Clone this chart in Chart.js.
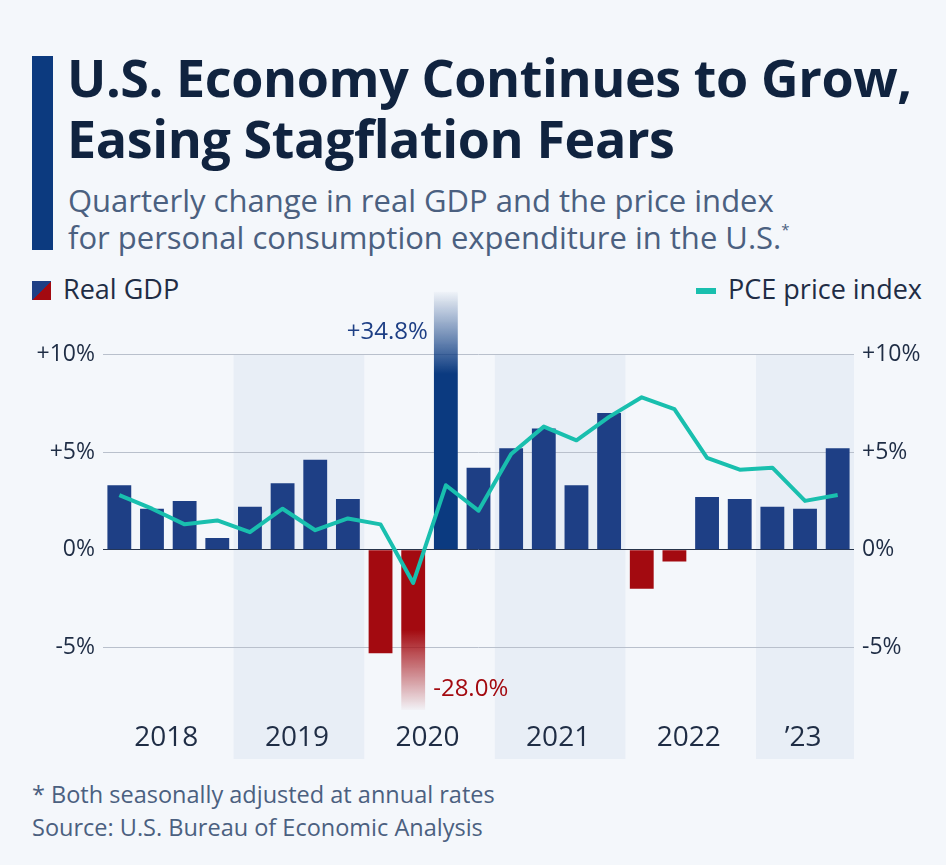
<!DOCTYPE html>
<html>
<head>
<meta charset="utf-8">
<script src="https://cdn.jsdelivr.net/npm/chart.js@4/dist/chart.umd.min.js"></script>
<style>
  html, body { margin: 0; padding: 0; }
  body {
    width: 946px; height: 865px; position: relative; overflow: hidden;
    background: #f4f7fb; font-family: "Open Sans", sans-serif;
  }
  .accent { position: absolute; left: 32px; top: 56px; width: 21px; height: 194px; background: #0c3a7f; }
  .title {
    position: absolute; left: 67px; top: 46px; margin: 0; white-space: nowrap;
    font-size: 52px; line-height: 61px; font-weight: 700; color: #10233f; letter-spacing: -0.4px;
  }
  .subtitle {
    position: absolute; left: 68px; top: 182px; margin: 0; white-space: nowrap;
    font-size: 31px; line-height: 37px; font-weight: 400; color: #4b6080;
  }
  .subtitle sup { font-size: 15px; vertical-align: 14px; line-height: 0; }
  .legend { position: absolute; top: 275px; font-size: 27px; line-height: 27px; color: #1f2d45; white-space: nowrap; }
  .legend.gdp { left: 32px; }
  .legend.pce { right: 24px; }
  .swatch { display: inline-block; vertical-align: top; }
  .swatch.gdp { width: 19px; height: 19px; margin: 6px 12px 0 0; background: linear-gradient(135deg, #1e3f85 50%, #a30a10 50%); }
  .swatch.pce { width: 20px; height: 6px; margin: 13px 12px 0 0; background: #19bfae; }
  #chartWrap { position: absolute; left: 0; top: 270px; width: 946px; height: 500px; }
  .footer {
    position: absolute; left: 32px; top: 778px; margin: 0; white-space: nowrap;
    font-size: 23.5px; line-height: 33px; color: #4b6080;
  }
</style>
</head>
<body>
<div class="accent"></div>
<h1 class="title">U.S. Economy Continues to Grow,<br>Easing Stagflation Fears</h1>
<p class="subtitle">Quarterly change in real GDP and the price index<br>for personal consumption expenditure in the U.S.<sup>*</sup></p>
<div class="legend gdp"><span class="swatch gdp"></span>Real GDP</div>
<div class="legend pce"><span class="swatch pce"></span>PCE price index</div>
<div id="chartWrap"><canvas id="gdpChart" width="946" height="500"></canvas></div>
<p class="footer">* Both seasonally adjusted at annual rates<br>Source: U.S. Bureau of Economic Analysis</p>

<script>
// Data
const quarters = [
    '2018 Q1', '2018 Q2', '2018 Q3', '2018 Q4',
    '2019 Q1', '2019 Q2', '2019 Q3', '2019 Q4',
    '2020 Q1', '2020 Q2', '2020 Q3', '2020 Q4',
    '2021 Q1', '2021 Q2', '2021 Q3', '2021 Q4',
    '2022 Q1', '2022 Q2', '2022 Q3', '2022 Q4',
    '2023 Q1', '2023 Q2', '2023 Q3'
];
const gdpValues = [
    3.3, 2.1, 2.5, 0.6,
    2.2, 3.4, 4.6, 2.6,
    -5.3, -28.0, 34.8, 4.2,
    5.2, 6.2, 3.3, 7.0,
    -2.0, -0.6, 2.7, 2.6,
    2.2, 2.1, 5.2
];
const pceValues = [
    2.8, 2.1, 1.3, 1.5,
    0.9, 2.1, 1.0, 1.6,
    1.3, -1.7, 3.3, 2.0,
    4.9, 6.3, 5.6, 6.8,
    7.8, 7.2, 4.7, 4.1,
    4.2, 2.5, 2.8
];
const yearLabels = ['2018', '2019', '2020', '2021', '2022', '\u201923'];
const quartersPerYear = [4, 4, 4, 4, 4, 3];
const yTickValues = [-5, 0, 5, 10];

const BLUE = '#1e3f85';
const BLUE_DARK = '#0b3a80';
const RED = '#a30a10';
const TEAL = '#19bfae';
const TEXT = '#1f2d45';
const Y_MIN = -8.2;
const Y_MAX = 13.2;

function formatTick(v) {
    if (v > 0) return '+' + v + '%';
    return v + '%';
}

// bars that run past the axis fade out towards the edge
function barColor(ctx) {
    const v = ctx.raw;
    const chart = ctx.chart;
    const area = chart.chartArea;
    if (v > Y_MAX || v < Y_MIN) {
        if (!area) return v > 0 ? BLUE_DARK : RED;
        const y = chart.scales.y;
        const g = chart.ctx.createLinearGradient(0, area.top, 0, area.bottom);
        if (v > 0) {
            const solidAt = (y.getPixelForValue(9.0) - area.top) / (area.bottom - area.top);
            g.addColorStop(0, 'rgba(11,58,128,0.02)');
            g.addColorStop(solidAt, BLUE_DARK);
            g.addColorStop(1, BLUE_DARK);
        } else {
            const solidAt = (y.getPixelForValue(-4.1) - area.top) / (area.bottom - area.top);
            g.addColorStop(0, RED);
            g.addColorStop(solidAt, RED);
            g.addColorStop(1, 'rgba(163,10,16,0.02)');
        }
        return g;
    }
    return v < 0 ? RED : BLUE;
}

function yearRanges() {
    const ranges = [];
    let start = 0;
    quartersPerYear.forEach((n, i) => {
        ranges.push({ label: yearLabels[i], start: start, end: start + n - 1, shaded: i % 2 === 1 });
        start += n;
    });
    return ranges;
}

const yearBands = {
    id: 'yearBands',
    beforeDraw(chart) {
        const { ctx, scales: { x, y }, chartArea } = chart;
        const step = x.getPixelForValue(1) - x.getPixelForValue(0);
        const top = y.getPixelForValue(10);
        ctx.save();
        ctx.fillStyle = '#e8eef6';
        yearRanges().forEach(r => {
            if (!r.shaded) return;
            const left = x.getPixelForValue(r.start) - step / 2;
            const right = x.getPixelForValue(r.end) + step / 2;
            ctx.fillRect(left, top, right - left, chartArea.bottom + 49 - top);
        });
        ctx.restore();
    },
    afterDraw(chart) {
        const { ctx, scales: { x }, chartArea } = chart;
        ctx.save();
        ctx.font = '28px "Open Sans"';
        ctx.fillStyle = TEXT;
        ctx.textAlign = 'center';
        ctx.textBaseline = 'alphabetic';
        yearRanges().forEach(r => {
            const cx = (x.getPixelForValue(r.start) + x.getPixelForValue(r.end)) / 2;
            ctx.fillText(r.label, cx - 2, chartArea.bottom + 36);
        });
        ctx.restore();
    }
};

const outlierLabels = {
    id: 'outlierLabels',
    afterDatasetsDraw(chart) {
        const { ctx, scales: { x, y } } = chart;
        ctx.save();
        ctx.font = '24px "Open Sans"';
        ctx.textBaseline = 'middle';
        gdpValues.forEach((v, i) => {
            if (v > Y_MAX) {
                ctx.fillStyle = BLUE;
                ctx.textAlign = 'right';
                ctx.fillText('+' + v.toFixed(1) + '%', x.getPixelForValue(i) - 18, y.getPixelForValue(10) - 22);
            } else if (v < Y_MIN) {
                ctx.fillStyle = RED;
                ctx.textAlign = 'left';
                ctx.fillText(v.toFixed(1) + '%', x.getPixelForValue(i) + 20, y.getPixelForValue(-5) + 42);
            }
        });
        ctx.restore();
    }
};

const tickFont = { family: '"Open Sans"', size: 23 };

const chart = new Chart(document.getElementById('gdpChart'), {
    type: 'bar',
    data: {
        labels: quarters,
        datasets: [
            {
                type: 'line',
                label: 'PCE price index',
                data: pceValues,
                borderColor: TEAL,
                borderWidth: 4,
                pointRadius: 0,
                tension: 0,
                borderJoinStyle: 'round',
                order: 0
            },
            {
                label: 'Real GDP',
                data: gdpValues,
                backgroundColor: barColor,
                barPercentage: 0.73,
                categoryPercentage: 1,
                order: 1
            }
        ]
    },
    options: {
        responsive: false,
        animation: false,
        layout: { padding: { top: 17, bottom: 60, left: 0, right: 0 } },
        plugins: { legend: { display: false }, tooltip: { enabled: false } },
        scales: {
            x: { display: false },
            y: {
                position: 'left',
                min: Y_MIN,
                max: Y_MAX,
                afterBuildTicks: s => { s.ticks = yTickValues.map(v => ({ value: v })); },
                afterFit: s => { s.width = 103; },
                border: { display: false },
                grid: {
                    drawTicks: false,
                    color: c => c.tick && c.tick.value === 0 ? '#27344a' : '#b9c0cc',
                    lineWidth: 1
                },
                ticks: { padding: 8, color: TEXT, font: tickFont, callback: v => formatTick(v) }
            },
            y2: {
                position: 'right',
                min: Y_MIN,
                max: Y_MAX,
                afterBuildTicks: s => { s.ticks = yTickValues.map(v => ({ value: v })); },
                afterFit: s => { s.width = 92; },
                border: { display: false },
                grid: { display: false, drawTicks: false },
                ticks: { padding: 8, color: TEXT, font: tickFont, callback: v => formatTick(v) }
            }
        }
    },
    plugins: [yearBands, outlierLabels]
});
</script>
</body>
</html>
